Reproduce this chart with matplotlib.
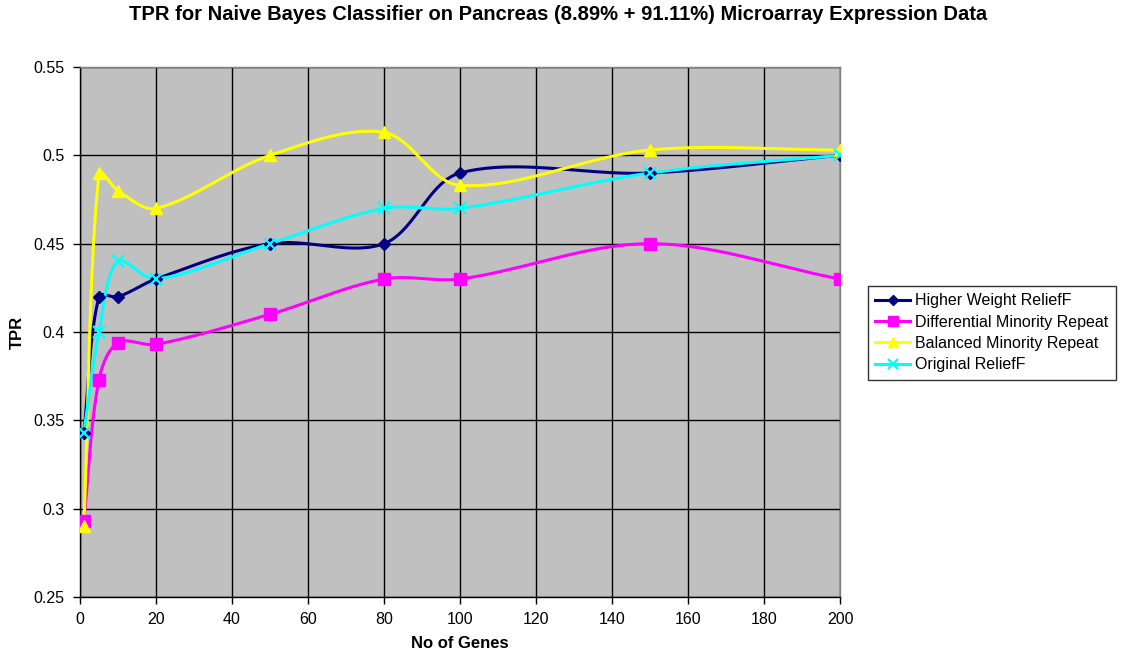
import numpy as np
import matplotlib
matplotlib.use("Agg")
import matplotlib.pyplot as plt
from matplotlib.lines import Line2D

plt.rcParams['font.family'] = ['Liberation Sans', 'DejaVu Sans']

genes = [1, 5, 10, 20, 50, 80, 100, 150, 200]
higher_weight = [0.343, 0.42, 0.42, 0.43, 0.45, 0.45, 0.49, 0.49, 0.50]
differential = [0.293, 0.373, 0.394, 0.393, 0.41, 0.43, 0.43, 0.45, 0.43]
balanced = [0.29, 0.49, 0.48, 0.47, 0.50, 0.513, 0.483, 0.503, 0.503]
original = [0.343, 0.40, 0.44, 0.43, 0.45, 0.47, 0.47, 0.49, 0.50]

series_names = ["Higher Weight ReliefF", "Differential Minority Repeat",
                "Balanced Minority Repeat", "Original ReliefF"]
x_ticks = list(range(0, 201, 20))
y_ticks = [0.25, 0.3, 0.35, 0.4, 0.45, 0.5, 0.55]

X_MIN, X_MAX, Y_MIN, Y_MAX = 0, 200, 0.25, 0.55
AX_W_PX, AX_H_PX = 760, 530


def smooth(xs, ys, steps=40):
    """Bezier smoothing through every point, with tangents weighted by
    neighbouring segment lengths (measured in screen units) to limit overshoot."""
    xs = np.asarray(xs, float)
    ys = np.asarray(ys, float)
    sx = AX_W_PX / (X_MAX - X_MIN)
    sy = AX_H_PX / (Y_MAX - Y_MIN)
    P = np.column_stack([xs * sx, ys * sy])
    n = len(P)
    seg = np.hypot(*np.diff(P, axis=0).T)
    out = []
    t = np.linspace(0, 1, steps)[:, None]
    for i in range(n - 1):
        p0, p3 = P[i], P[i + 1]
        if i == 0:
            c1 = p0 + (p3 - p0) / 3
        else:
            T = P[i + 1] - P[i - 1]
            c1 = p0 + T * seg[i] / (seg[i - 1] + seg[i]) / 3
        if i + 1 == n - 1:
            c2 = p3 - (p3 - p0) / 3
        else:
            T = P[i + 2] - P[i]
            c2 = p3 - T * seg[i] / (seg[i] + seg[i + 1]) / 3
        b = (1 - t) ** 3 * p0 + 3 * (1 - t) ** 2 * t * c1 \
            + 3 * (1 - t) * t ** 2 * c2 + t ** 3 * p3
        out.append(b)
    out = np.vstack(out)
    return out[:, 0] / sx, out[:, 1] / sy


fig = plt.figure(figsize=(11.25, 6.57), dpi=100)
ax = fig.add_axes([80 / 1125, 60 / 657, AX_W_PX / 1125, AX_H_PX / 657])
ax.set_facecolor('#C0C0C0')

styles = [
    (higher_weight, '#000080', 'D', 6),
    (differential, '#FF00FF', 's', 9),
    (balanced, '#FFFF00', '^', 9),
    (original, '#00FFFF', 'x', 9),
]

handles = []
for (vals, color, marker, ms), name in zip(styles, series_names):
    cx, cy = smooth(genes, vals)
    ax.plot(cx, cy, color=color, lw=2.2, zorder=3)
    if marker == 'x':
        ax.plot(genes, vals, linestyle='none', marker='x', ms=ms, mew=1.6,
                color=color, zorder=4)
    else:
        ax.plot(genes, vals, linestyle='none', marker=marker, ms=ms,
                color=color, mec=color, zorder=4)
    handles.append(Line2D([0], [0], color=color, lw=2.2, marker=marker,
                          ms=ms * 0.8, mew=1.6 if marker == 'x' else 1,
                          label=name))

ax.set_xlim(X_MIN, X_MAX)
ax.set_ylim(Y_MIN, Y_MAX)
ax.set_xticks(x_ticks)
ax.set_yticks(y_ticks)
ax.set_xticklabels([str(v) for v in x_ticks])
ax.set_yticklabels([f"{v:g}" for v in y_ticks])
ax.grid(True, color='black', lw=1.0, zorder=1)
ax.set_axisbelow(True)
ax.tick_params(axis='both', direction='out', length=5, width=1, labelsize=11.5,
               color='black', pad=6)

for side in ['left', 'bottom']:
    ax.spines[side].set_color('black')
    ax.spines[side].set_linewidth(1.0)
for side in ['top', 'right']:
    ax.spines[side].set_color('#808080')
    ax.spines[side].set_linewidth(1.0)

ax.set_xlabel("No of Genes", fontsize=12, fontweight='bold', labelpad=6)
fig.text(17 / 1125, 1 - 332 / 657, "TPR", rotation=90, ha='center',
         va='center', fontsize=12, fontweight='bold')

fig.text(558 / 1125, 1 - 15 / 657,
         "TPR for Naive Bayes Classifier on Pancreas (8.89% + 91.11%) Microarray Expression Data",
         ha='center', va='center', fontsize=14.5, fontweight='bold')

leg = fig.legend(handles=handles, loc='upper left',
                 bbox_to_anchor=(868 / 1125, 1 - 286 / 657),
                 fontsize=11.5, frameon=True, fancybox=False, handlelength=2.2,
                 handletextpad=0.3, borderpad=0.45, labelspacing=0.4,
                 edgecolor='black', borderaxespad=0)
leg.get_frame().set_linewidth(1.0)

fig.savefig("out.png", dpi=100)
